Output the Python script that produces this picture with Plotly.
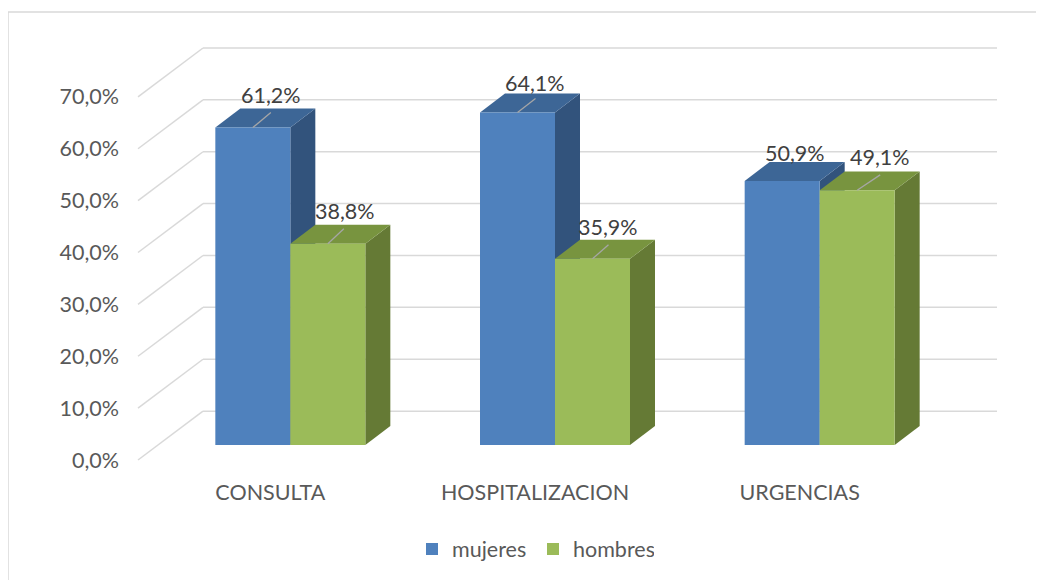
import plotly.graph_objects as go

# ---------------- data ----------------
categories = ["CONSULTA", "HOSPITALIZACION", "URGENCIAS"]
series_names = ["mujeres", "hombres"]
mujeres = [61.2, 64.1, 50.9]
hombres = [38.8, 35.9, 49.1]
y_ticks = [0, 10, 20, 30, 40, 50, 60, 70]

# ---------------- style / geometry ----------------
PAGE_W, PAGE_H = 1044, 580
OFF = 8                         # default page body margin
W, H = PAGE_W - OFF, PAGE_H - OFF
PX = 264.67            # pixels per category unit
PY = 5.2               # pixels per percentage point
PLOT_L = 134 - OFF     # left pixel of plot area (figure coords)
BASE_PX = 446 - OFF    # pixel row of the bar base (bar plane)
FRONT = (-20, -15)     # floor front edge offset from bar plane (px right, px up)
BACK = (45, 34)        # back wall offset from bar plane (px right, px up)
DEPTH = (25, 19)       # bar depth (px right, px up)
BAR_W = 75 / PX
PAD = 4

colors_front = ["#4f81bd", "#9bbb59"]
colors_top = ["#3d6696", "#78943f"]
colors_side = ["#32537c", "#657a35"]
grid_color = "#d9d9d9"
axis_text = "#595959"
label_text = "#404040"
FONT = "Lato, 'Noto Sans', sans-serif"
FS = 21.5

# per-bar label offsets (px right, px up) and leader vectors
label_off = [[(18.5, 33), (17.8, 30), (12.5, 28)],
             [(17.5, 33), (15.3, 32), (23, 33)]]
leader_vec = [[(18, 15), (18, 14), None],
              [(16, 15), (16, 14), (23, 15.5)]]

n = len(categories)
xr = [-0.5 + (FRONT[0] - PAD) / PX, n - 0.5 + (BACK[0] + PAD) / PX]
yr = [(FRONT[1] - PAD) / PY, y_ticks[-1] + (BACK[1] + PAD) / PY]
plot_w = (xr[1] - xr[0]) * PX
plot_h = (yr[1] - yr[0]) * PY
top_px = BASE_PX - yr[1] * PY
bottom_px = top_px + plot_h


def px2paper_x(p):
    return (p - OFF - PLOT_L) / plot_w


def px2paper_y(p):
    return (bottom_px - (p - OFF)) / plot_h


series = [mujeres, hombres]
offsets = [-BAR_W, 0.0]

fig = go.Figure()
for s, name in enumerate(series_names):
    fig.add_trace(go.Bar(
        x=list(range(n)), y=series[s], name=name,
        width=BAR_W, offset=offsets[s],
        marker=dict(color=colors_front[s], line=dict(width=0)),
        hoverinfo="skip",
    ))

shapes = []
# gridlines: side wall diagonals + back wall horizontals
for v in y_ticks:
    fx, fy = -0.5 + FRONT[0] / PX, v + FRONT[1] / PY
    bx, by = -0.5 + BACK[0] / PX, v + BACK[1] / PY
    rx = n - 0.5 + BACK[0] / PX
    for (a, b, c, d) in [(fx, fy, bx, by), (bx, by, rx, by)]:
        shapes.append(dict(type="line", xref="x", yref="y", x0=a, y0=b, x1=c, y1=d,
                           line=dict(color=grid_color, width=1.5), layer="below"))

dx, dy = DEPTH[0] / PX, DEPTH[1] / PY
for i in range(n):
    for s in range(len(series_names)):
        h = series[s][i]
        x0 = i + offsets[s]
        x1 = x0 + BAR_W
        side = f"M{x1},0 L{x1 + dx},{dy} L{x1 + dx},{h + dy} L{x1},{h} Z"
        top = f"M{x0},{h} L{x1},{h} L{x1 + dx},{h + dy} L{x0 + dx},{h + dy} Z"
        shapes.append(dict(type="path", xref="x", yref="y", path=side,
                           fillcolor=colors_side[s], line=dict(width=0), layer="below"))
        shapes.append(dict(type="path", xref="x", yref="y", path=top,
                           fillcolor=colors_top[s], line=dict(width=0), layer="below"))

annotations = []
for i in range(n):
    for s in range(len(series_names)):
        h = series[s][i]
        xc = i + offsets[s] + BAR_W / 2
        lv = leader_vec[s][i]
        if lv is not None:
            shapes.append(dict(type="line", xref="x", yref="y", x0=xc, y0=h,
                               x1=xc + lv[0] / PX, y1=h + lv[1] / PY,
                               line=dict(color="#a6a6a6", width=1.3), layer="above"))
        ox, oy = label_off[s][i]
        annotations.append(dict(
            x=xc, y=h, xref="x", yref="y", xshift=ox, yshift=oy,
            text=f"{h:.1f}%".replace(".", ","), showarrow=False,
            xanchor="center", yanchor="middle",
            font=dict(family=FONT, size=FS, color=label_text)))

# chart border (only left and top visible in the frame)
shapes.append(dict(type="rect", xref="paper", yref="paper",
                   x0=px2paper_x(8), y0=px2paper_y(PAGE_H + 40),
                   x1=px2paper_x(PAGE_W + 40), y1=px2paper_y(12),
                   line=dict(color="#d9d9d9", width=1.5), fillcolor="rgba(0,0,0,0)", layer="below"))

fig.update_layout(
    width=W, height=H, autosize=False,
    margin=dict(l=PLOT_L, r=W - PLOT_L - plot_w, t=top_px, b=H - bottom_px, pad=0),
    paper_bgcolor="white", plot_bgcolor="rgba(0,0,0,0)",
    barmode="overlay",
    separators=",.",
    shapes=shapes, annotations=annotations,
    font=dict(family=FONT, size=FS, color=axis_text),
    showlegend=True,
    legend=dict(orientation="h", x=px2paper_x(412), xanchor="left",
                y=px2paper_y(549), yanchor="middle",
                font=dict(family=FONT, size=FS, color=axis_text),
                entrywidth=76, bgcolor="rgba(0,0,0,0)", traceorder="normal"),
    xaxis=dict(range=xr, showgrid=False, zeroline=False, showline=False,
               tickmode="array", tickvals=list(range(n)), ticktext=categories,
               ticks="", ticklabelshift=FRONT[0], ticklabelstandoff=13,
               tickfont=dict(family=FONT, size=FS, color=axis_text), fixedrange=True),
    yaxis=dict(range=yr, showgrid=False, zeroline=False, showline=False,
               tickmode="array", tickvals=y_ticks,
               ticktext=[f"{t:.1f}%".replace(".", ",") for t in y_ticks],
               ticks="", ticklabelshift=-FRONT[1], ticklabelstandoff=14,
               tickfont=dict(family=FONT, size=FS, color=axis_text), fixedrange=True),
)

fig.write_html("out.html")
